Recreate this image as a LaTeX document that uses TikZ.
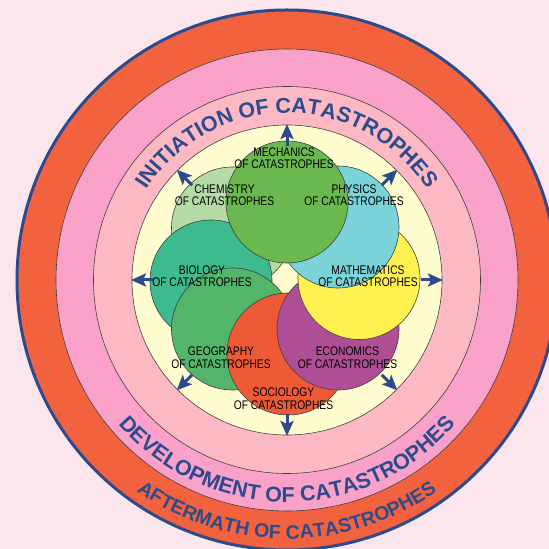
\documentclass[tikz,border=0pt]{standalone}
\usepackage{fontspec}
\setmainfont{Liberation Sans}
\newfontfamily\labfont[FakeStretch=0.82]{Liberation Sans}
\newfontfamily\arcfont{Liberation Sans}
\usetikzlibrary{decorations.text,arrows.meta}
\definecolor{bg}{HTML}{FCE6EE}
\definecolor{navy}{HTML}{2D4B8C}
\definecolor{orng}{HTML}{F2623F}
\definecolor{pinkA}{HTML}{F9A1C9}
\definecolor{pinkB}{HTML}{FDB9C3}
\definecolor{ylw}{HTML}{FFFDD0}
\definecolor{cMech}{HTML}{6AB84F}
\definecolor{cPhys}{HTML}{79D3D8}
\definecolor{cMath}{HTML}{FFF150}
\definecolor{cEcon}{HTML}{B04E95}
\definecolor{cSoc}{HTML}{EE5A36}
\definecolor{cGeo}{HTML}{52B56A}
\definecolor{cBio}{HTML}{3EBA8F}
\definecolor{cChem}{HTML}{B6DCA5}
\begin{document}
\begin{tikzpicture}[x=1pt,y=1pt,
  ring/.style={draw=black!75, line width=0.6pt},
  disc/.style={circle, draw=black!75, line width=0.6pt, minimum size=122pt, inner sep=0pt},
  lbl/.style={font=\labfont\fontsize{12.5}{12.5}\selectfont, align=center, inner sep=0pt, text=black},
  outarrow/.style={draw=navy, line width=3pt, -{Stealth[length=15pt,width=13pt,inset=3pt]}},
  arctext/.style={decorate, decoration={text along path, text align=center, text color=navy}}
]
\clip (0,0) rectangle (549,549);
\fill[bg] (0,0) rectangle (549,549);
\coordinate (c) at (287,269);
% rings
\draw[fill=orng, draw=navy, line width=3pt] (c) circle[radius=270];
\draw[ring, fill=pinkA] (c) circle[radius=231];
\draw[ring, fill=pinkB] (c) circle[radius=193.5];
\draw[ring, fill=ylw] (c) circle[radius=155];
% arc texts
\path[arctext, decoration={text={|\arcfont\bfseries\fontsize{21.5}{21.5}\selectfont|INITIATION OF CATASTROPHES}}]
  (c) ++(160:167) arc[start angle=160, end angle=20, radius=167];
\path[arctext, decoration={text={|\arcfont\bfseries\fontsize{21.5}{21.5}\selectfont|DEVELOPMENT OF CATASTROPHES}}]
  (c) ++(195:222) arc[start angle=195, end angle=345, radius=222];
\path[arctext, decoration={text={|\arcfont\bfseries\fontsize{19.5}{19.5}\selectfont|AFTERMATH OF CATASTROPHES}}]
  (c) ++(205:259) arc[start angle=205, end angle=335, radius=259];
% discs
\node[disc, fill=cChem] (chem) at (232.5,321) {};
\node[disc, fill=cBio]  (bio)  at (211,268) {};
\node[disc, fill=cGeo]  (geo)  at (232.5,220) {};
\node[disc, fill=cSoc]  (soc)  at (288,195) {};
\node[disc, fill=cEcon] (econ) at (338,220) {};
\node[disc, fill=cMath] (math) at (359,270.5) {};
\node[disc, fill=cPhys] (phys) at (338,322) {};
\node[disc, fill=cMech] (mech) at (287,347) {};
% arrows
\foreach \a in {0,45,...,315}{
  \draw[outarrow] (c) ++(\a:134) -- ++(\a:22);
}
% labels
\node[lbl] (lmech) at (284,391) {MECHANICS\\OF CATASTROPHES};
\node[lbl] (lchem) at (224.5,354) {CHEMISTRY\\OF CATASTROPHES};
\node[lbl] (lphys) at (354,354) {PHYSICS\\OF CATASTROPHES};
\node[lbl] (lbio)  at (202,273) {BIOLOGY\\OF CATASTROPHES};
\node[lbl] (lmath) at (368,273) {MATHEMATICS\\OF CATASTROPHES};
\node[lbl] (lgeo)  at (221,191.5) {GEOGRAPHY\\OF CATASTROPHES};
\node[lbl] (lecon) at (347.5,191.5) {ECONOMICS\\OF CATASTROPHES};
\node[lbl] (lsoc)  at (283.5,150.5) {SOCIOLOGY\\OF CATASTROPHES};
\end{tikzpicture}
\end{document}
